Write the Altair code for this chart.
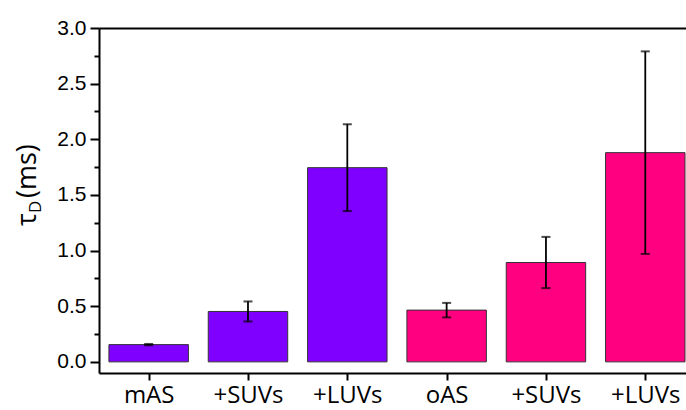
import json
import altair as alt
import pandas as pd

# ---- data ----
names = ['mAS', '+SUVs', '+LUVs', 'oAS', '+SUVs', '+LUVs']
groups = ['m', 'm', 'm', 'o', 'o', 'o']
positions = [1, 2, 3, 4, 5, 6]
values = [0.155, 0.453, 1.745, 0.465, 0.893, 1.88]
errors = [0.006, 0.09, 0.39, 0.065, 0.23, 0.91]
major_ticks = [0.0, 0.5, 1.0, 1.5, 2.0, 2.5, 3.0]
minor_ticks = [0.25, 0.75, 1.25, 1.75, 2.25, 2.75]
group_domain = ['m', 'o']
group_colors = ['#8000FF', '#FF0080']

df = pd.DataFrame({'pos': positions, 'name': names, 'group': groups,
                   'val': values, 'err': errors})

label_expr = json.dumps(names) + "[datum.value - 1]"

xscale = alt.Scale(domain=[0.5, 6.41], nice=False, zero=False)
yscale = alt.Scale(domain=[-0.1, 3.0], nice=False, zero=False)

base = alt.Chart(df).transform_calculate(
    x0='datum.pos - 0.4', x1='datum.pos + 0.4', base='0',
    lo='datum.val - datum.err', hi='datum.val + datum.err')

bars = base.mark_bar(stroke='#333333', strokeWidth=1).encode(
    x=alt.X('x0:Q', scale=xscale,
            axis=alt.Axis(orient='bottom', values=positions, labelExpr=label_expr,
                          labelFont='Open Sans', labelFontSize=24, labelColor='black',
                          labelPadding=3, labelOverlap=False, labelFlush=False,
                          tickSize=7, tickWidth=2, tickColor='black',
                          domainWidth=2, domainColor='black', grid=False, title=None)),
    x2='x1:Q',
    y=alt.Y('val:Q', scale=yscale,
            axis=alt.Axis(orient='left', values=major_ticks,
                          labelExpr="format(datum.value, '.1f')",
                          labelFont='Liberation Sans', labelFontSize=21, labelColor='black',
                          labelPadding=4, labelOverlap=False,
                          tickSize=9, tickWidth=2, tickColor='black',
                          domainWidth=2, domainColor='black', grid=False, title=None)),
    y2='base:Q',
    color=alt.Color('group:N', scale=alt.Scale(domain=group_domain, range=group_colors),
                    legend=None),
)

rules = base.mark_rule(color='black', strokeWidth=1.8).encode(
    x=alt.X('pos:Q', scale=xscale,
            axis=alt.Axis(orient='top', labels=False, ticks=False, domain=True,
                          domainWidth=2, domainColor='black', grid=False, title=None)),
    y=alt.Y('lo:Q', scale=yscale,
            axis=alt.Axis(orient='left', values=minor_ticks, labels=False, domain=False,
                          tickSize=5, tickWidth=2, tickColor='black', grid=False,
                          title=None)),
    y2='hi:Q',
)

caps = base.transform_fold(['lo', 'hi'], as_=['end', 'yv']).mark_tick(
    orient='horizontal', size=9, thickness=2, color='black').encode(
    x=alt.X('pos:Q', scale=xscale, axis=None),
    y=alt.Y('yv:Q', scale=yscale, axis=None),
)

title_font = 'Open Sans'
t_tau = alt.Chart(pd.DataFrame({'t': ['τ']})).mark_text(
    angle=270, align='left', baseline='alphabetic', font=title_font, fontSize=27,
    color='black').encode(text='t:N', x=alt.value(-63), y=alt.value(198))
t_sub = alt.Chart(pd.DataFrame({'t': ['D']})).mark_text(
    angle=270, align='left', baseline='alphabetic', font=title_font, fontSize=17,
    color='black').encode(text='t:N', x=alt.value(-58), y=alt.value(185))
t_ms = alt.Chart(pd.DataFrame({'t': ['(ms)']})).mark_text(
    angle=270, align='left', baseline='alphabetic', font=title_font, fontSize=27,
    color='black').encode(text='t:N', x=alt.value(-63), y=alt.value(170))

chart = alt.layer(bars, rules, caps, t_tau, t_sub, t_ms).resolve_axis(
    x='independent', y='independent'
).properties(
    width=587, height=345,
    padding={'left': 99, 'top': 28, 'right': 0, 'bottom': 37},
    autosize=alt.AutoSizeParams(type='none'),
).configure_view(stroke=None)

chart.save("out.html", embed_options={"renderer": "svg", "actions": False})
